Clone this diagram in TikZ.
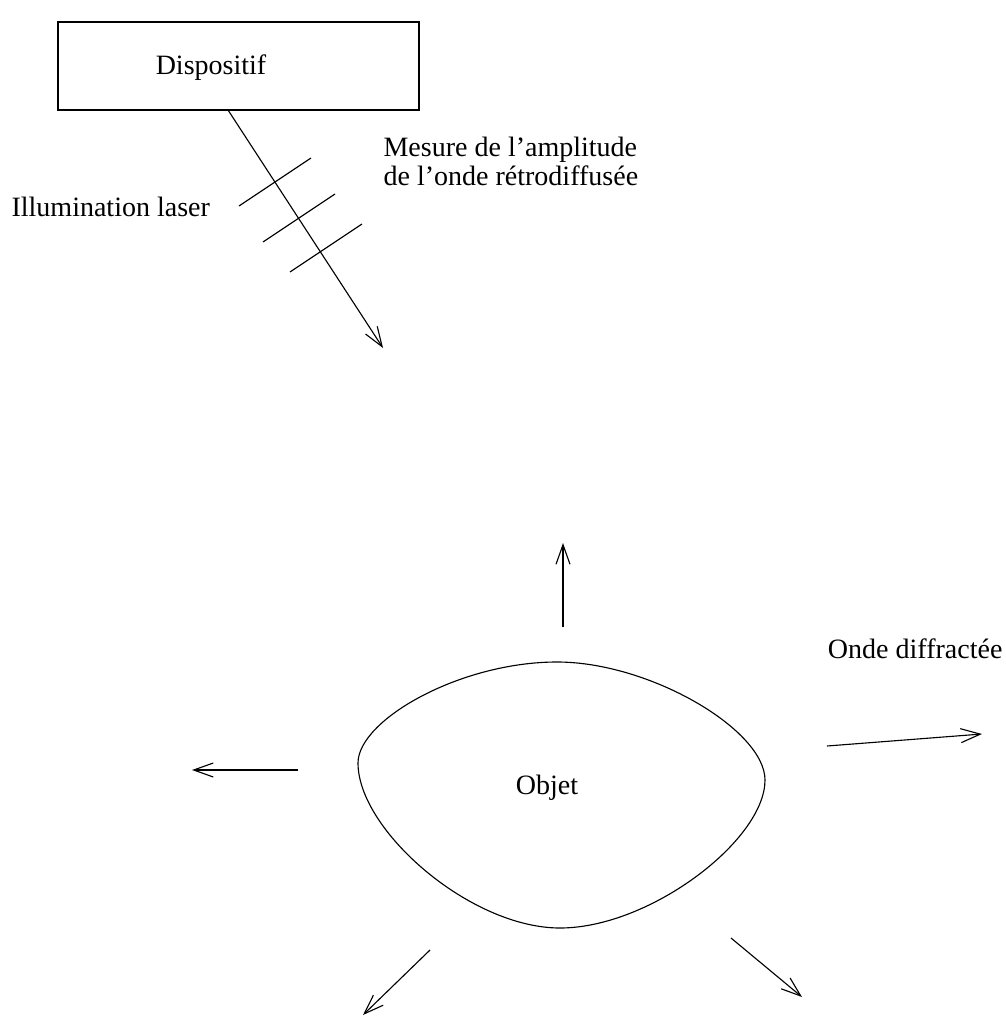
\documentclass[tikz,border=0pt]{standalone}
\usepackage{fontspec}
\setmainfont{Liberation Serif}
\usetikzlibrary{arrows.meta}

\begin{document}
\begin{tikzpicture}[x=0.357pt,y=-0.357pt,
  txt/.style={inner sep=0pt,font=\fontsize{10}{10}\selectfont},
  onde/.style={-{Straight Barb[length=7pt,width=5pt]}}]
\useasboundingbox (0,0) rectangle (1005,1016);

% dispositif et faisceau laser
\node[draw,inner sep=0pt,minimum width=128.9pt,minimum height=31.4pt] (box) at (238.5,66) {};
\node[txt,anchor=base] (disp) at (211,75) {Dispositif};
\coordinate (src) at (228,110);
\coordinate (tip) at (383,348);
\draw[onde] (src) -- (tip);
\foreach \a/\b in {{(239,206)}/{(311,158)},{(263,242)}/{(335,194)},{(290,272)}/{(362,224)}}
  \draw \a -- \b;
\node[txt,anchor=base west] (illum) at (11,217) {Illumination laser};
\node[txt,anchor=base west] (mes) at (383,157) {Mesure de l'amplitude};
\node[txt,anchor=base west] (retro) at (383,185) {de l'onde rétrodiffusée};

% objet
\draw (358,763) .. controls (358,720) and (460,662) .. (557,662)
  .. controls (650,662) and (765,730) .. (765,780)
  .. controls (765,840) and (650,928) .. (560,928)
  .. controls (470,928) and (358,830) .. (358,763) -- cycle;
\node[txt,anchor=base] (obj) at (547,794) {Objet};

% ondes diffractees
\foreach \a/\b in {{(563,627)}/{(563,543)},{(827,746)}/{(982,734)},{(298,770)}/{(192,770)},
  {(430,950)}/{(363,1015)},{(731,938)}/{(802,997)}}
  \draw[onde] \a -- \b;
\node[txt,anchor=base east] (diff) at (1003,658) {Onde diffractée};
\end{tikzpicture}
\end{document}
